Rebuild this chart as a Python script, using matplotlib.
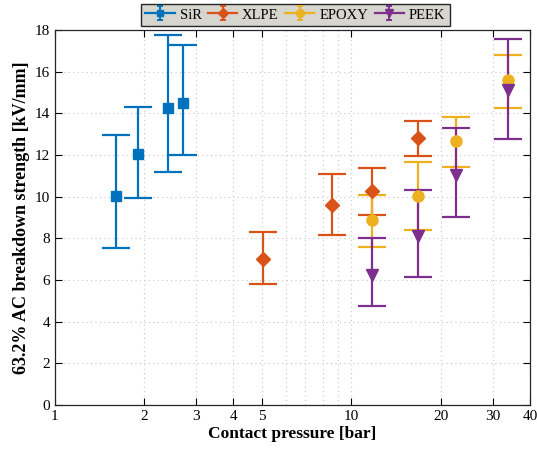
import matplotlib.pyplot as plt
from matplotlib.lines import Line2D
from matplotlib.path import Path
from matplotlib.ticker import FixedLocator, NullFormatter

plt.rcParams['font.family'] = ['Liberation Serif', 'DejaVu Serif']

# SiR
sir_x = [1.61, 1.91, 2.41, 2.71]
sir_y = [10.03, 12.05, 14.26, 14.5]
sir_lo = [7.54, 9.94, 11.19, 12.0]
sir_hi = [12.96, 14.3, 17.76, 17.28]

# XLPE
xlpe_x = [5.04, 8.63, 11.7, 16.8]
xlpe_y = [7.0, 9.62, 10.27, 12.82]
xlpe_lo = [5.8, 8.16, 9.12, 11.95]
xlpe_hi = [8.3, 11.09, 11.38, 13.63]

# EPOXY
epoxy_x = [11.7, 16.8, 22.6, 33.6]
epoxy_y = [8.88, 10.03, 12.67, 15.6]
epoxy_lo = [7.58, 8.4, 11.42, 14.26]
epoxy_hi = [10.08, 11.66, 13.83, 16.8]

# PEEK
peek_x = [11.7, 16.8, 22.6, 33.6]
peek_y = [6.25, 8.1, 11.04, 15.1]
peek_lo = [4.75, 6.15, 9.0, 12.77]
peek_hi = [8.0, 10.3, 13.3, 17.57]

series = [
    ('SiR', sir_x, sir_y, sir_lo, sir_hi, '#0072BD', 's', 7),
    ('XLPE', xlpe_x, xlpe_y, xlpe_lo, xlpe_hi, '#D95319', 'D', 7),
    ('EPOXY', epoxy_x, epoxy_y, epoxy_lo, epoxy_hi, '#EDB120', 'o', 8),
    ('PEEK', peek_x, peek_y, peek_lo, peek_hi, '#7E2F8E', 'v', 9),
]

# little I-beam marker for the legend error bars
ibeam = Path([(0, -1), (0, 1), (-0.5, 1), (0.5, 1), (-0.5, -1), (0.5, -1)],
             [Path.MOVETO, Path.LINETO, Path.MOVETO, Path.LINETO, Path.MOVETO, Path.LINETO])

fig = plt.figure(figsize=(5.37, 4.53), dpi=100)
ax = fig.add_axes([0.102, 0.106, 0.885, 0.828])

handles = []
for name, x, y, lo, hi, c, m, ms in series:
    err = [[yy - l for yy, l in zip(y, lo)], [h - yy for yy, h in zip(y, hi)]]
    ax.errorbar(x, y, yerr=err, fmt=m, color=c, ms=ms, capsize=10,
                elinewidth=1.6, capthick=1.6, lw=1.6)
    line = Line2D([], [], color=c, marker=m, ms=ms * 0.7, lw=1.6)
    bar = Line2D([], [], ls='None', marker=ibeam, ms=10, mec=c, mfc='none', mew=1.4)
    handles.append((line, bar))

ax.set_xscale('log')
ax.set_xlim(1, 40)
ax.set_ylim(0, 18)
ax.xaxis.set_major_locator(FixedLocator([1, 2, 3, 4, 5, 10, 20, 30, 40]))
ax.xaxis.set_major_formatter(plt.FuncFormatter(lambda v, p: f'{v:g}'))
ax.xaxis.set_minor_locator(FixedLocator([6, 7, 8, 9]))
ax.xaxis.set_minor_formatter(NullFormatter())
ax.set_yticks(range(0, 19, 2))

ax.grid(True, which='both', linestyle=(0, (1, 3)), color='#c8c8c8', lw=0.8)
ax.tick_params(which='both', direction='in', top=True, right=True, labelsize=11)
ax.tick_params(which='major', length=5)
ax.tick_params(which='minor', length=0)
for s in ax.spines.values():
    s.set_linewidth(0.9)
    s.set_color('#262626')

ax.set_xlabel('Contact pressure [bar]', fontsize=12.5, fontweight='bold', labelpad=2)
ax.set_ylabel('63.2% AC breakdown strength [kV/mm]', fontsize=13, fontweight='bold', labelpad=3)

leg = fig.legend(handles=handles, labels=[s[0] for s in series],
                 loc='center', bbox_to_anchor=(0.550, 0.967),
                 ncol=4, fontsize=10.5, frameon=True, fancybox=False,
                 handlelength=2.0, columnspacing=0.45, handletextpad=0.34,
                 borderpad=0.3, borderaxespad=0)
leg.get_frame().set_facecolor('#d6d6ce')
leg.get_frame().set_edgecolor('#262626')
leg.get_frame().set_alpha(1)

fig.savefig('out.png', dpi=100)
